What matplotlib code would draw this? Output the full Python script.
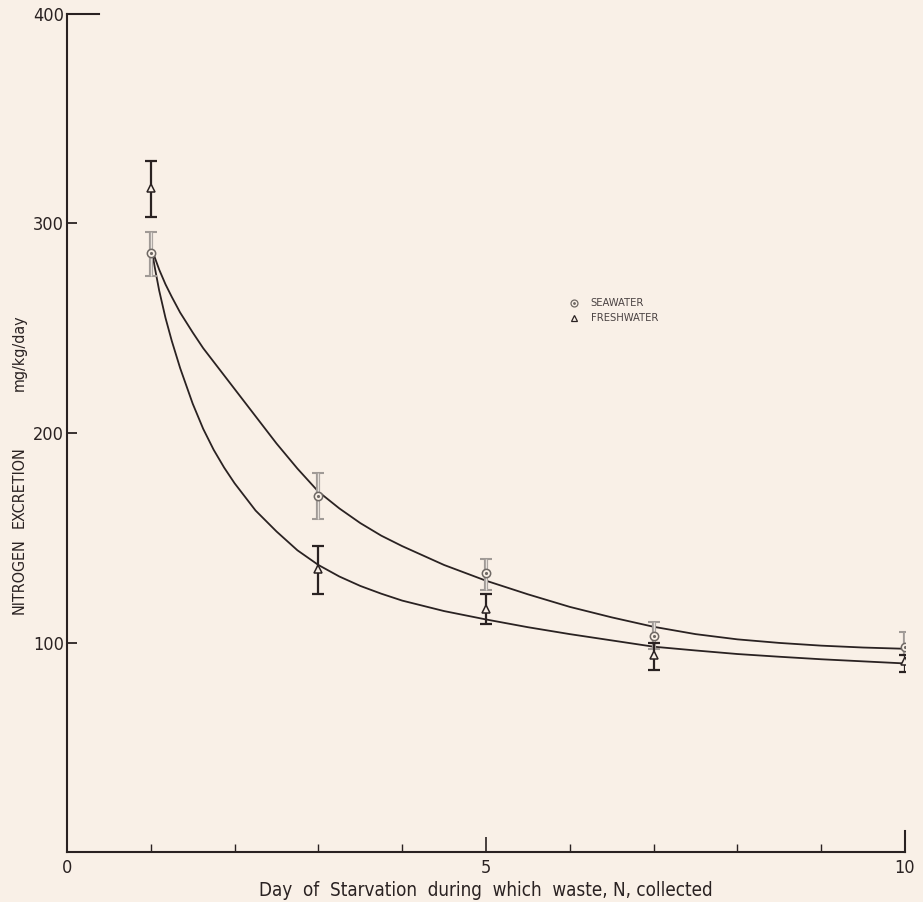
import numpy as np
import matplotlib.pyplot as plt

# measured points (day, mg/kg/day) with error bar ends
days = [1, 3, 5, 7, 10]
sea_y = [286, 170, 133, 103, 98]
sea_lo = [275, 159, 125, 97, 94]
sea_hi = [296, 181, 140, 110, 105]
fresh_y = [317, 135, 116, 94, 91]
fresh_lo = [303, 123, 109, 87, 86]
fresh_hi = [330, 146, 123, 100, 94]

# hand drawn fitted curves
curve_x = [1, 1.05, 1.1, 1.175, 1.25, 1.35, 1.5, 1.625, 1.75, 1.875, 2, 2.25, 2.5,
           2.75, 3, 3.25, 3.5, 3.75, 4, 4.5, 5, 5.5, 6, 6.5, 7, 7.5, 8, 8.5, 9, 9.5, 10]
sea_curve = [289, 283.5, 278, 271, 265, 257.5, 248, 240.5, 234, 227.5, 221, 208, 195,
             183, 172, 164, 157, 151, 146, 137, 129.5, 123, 117, 112, 107.5, 104,
             101.5, 99.8, 98.5, 97.6, 97]
fresh_curve = [290, 278.5, 268, 255, 244, 231, 214, 202, 192, 183.5, 176, 163, 153,
               144, 137, 131.5, 127, 123.3, 120, 115, 111, 107.3, 104, 101, 98,
               96.2, 94.5, 93.2, 92, 91, 90]

bg = '#f9f0e7'
ink = '#2a2222'
plt.rcParams['font.family'] = ['DejaVu Sans']
plt.rcParams['font.stretch'] = 'condensed'

fig = plt.figure(figsize=(9.23, 9.02), dpi=100, facecolor=bg)
ax = fig.add_axes([67/923, (902-852)/902, (905-67)/923, (852-14)/902])
ax.set_facecolor(bg)
ax.set_xlim(0, 10)
ax.set_ylim(0, 400)

ax.plot(curve_x, sea_curve, color=ink, lw=1.3)
ax.plot(curve_x, fresh_curve, color=ink, lw=1.3)

sea_err = [np.array(sea_y) - np.array(sea_lo), np.array(sea_hi) - np.array(sea_y)]
fresh_err = [np.array(fresh_y) - np.array(fresh_lo), np.array(fresh_hi) - np.array(fresh_y)]

ax.errorbar(days, sea_y, yerr=sea_err, fmt='none', ecolor='#a09a96', elinewidth=3,
            capsize=4, capthick=1.5, zorder=3)
ax.errorbar(days, sea_y, yerr=sea_err, fmt='none', ecolor='#e6e0da', elinewidth=1,
            capsize=0, zorder=3)
ax.errorbar(days, fresh_y, yerr=fresh_err, fmt='none', ecolor=ink, elinewidth=1.6,
            capsize=4.5, capthick=1.6, zorder=3)

ax.plot(days, sea_y, 'o', ms=6, mfc=bg, mec='#6e6864', mew=1.1, zorder=4)
ax.plot(days, sea_y, '.', ms=2.5, color='#6e6864', zorder=5)
ax.plot(days, fresh_y, '^', ms=6, mfc=bg, mec=ink, mew=1.1, zorder=4)

# legend
ax.plot([6.05], [262], 'o', ms=5, mfc=bg, mec='#6e6864', mew=0.9)
ax.plot([6.05], [262], '.', ms=2, color='#6e6864')
ax.plot([6.05], [255], '^', ms=5, mfc=bg, mec=ink, mew=0.9)
ax.text(6.25, 262, 'SEAWATER', fontsize=8, va='center', color='#4a4242')
ax.text(6.25, 255, 'FRESHWATER', fontsize=8, va='center', color='#4a4242')

# axes styling
for s in ['left', 'bottom', 'right', 'top']:
    ax.spines[s].set_color(ink)
    ax.spines[s].set_linewidth(1.5)
ax.spines['right'].set_bounds(0, 10)
ax.spines['top'].set_bounds(0, 0.38)

ax.set_xticks([0, 5, 10])
ax.set_xticklabels(['0', '5', '10'])
ax.set_xticks([1, 2, 3, 4, 6, 7, 8, 9], minor=True)
ax.tick_params(axis='x', which='major', direction='in', length=11, width=1.2,
               colors=ink, labelsize=13, pad=5)
ax.tick_params(axis='x', which='minor', direction='in', length=6, width=1.0, colors=ink)
ax.set_yticks([100, 200, 300, 400])
ax.tick_params(axis='y', direction='in', length=7, width=1.3, colors=ink,
               labelsize=13, pad=2)
ax.tick_params(axis='y', which='minor', left=False)

ax.set_xlabel('Day  of  Starvation  during  which  waste, N, collected',
              fontsize=13.5, color=ink, labelpad=3)

fig.text(19/923, 1 - 576/902, 'NITROGEN', rotation=90, ha='center', va='center',
         fontsize=11.5, color=ink)
fig.text(19/923, 1 - 487/902, 'EXCRETION', rotation=90, ha='center', va='center',
         fontsize=11.5, color=ink)
fig.text(19/923, 1 - 353/902, 'mg/kg/day', rotation=90, ha='center', va='center',
         fontsize=11.5, color=ink)

fig.savefig('out.png', dpi=100, facecolor=bg)
